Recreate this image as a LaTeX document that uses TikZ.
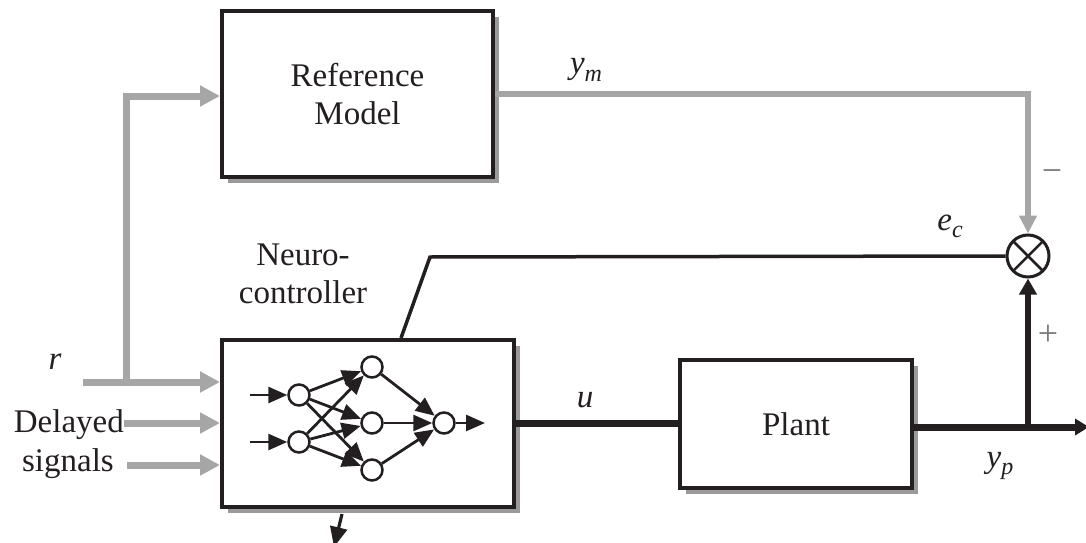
\documentclass[tikz,border=0pt]{standalone}
\usepackage{fontspec}
\setmainfont{Liberation Serif}
\usetikzlibrary{arrows.meta,shadows,calc}
\definecolor{lgray}{HTML}{A6A6A6}
\definecolor{sgray}{HTML}{9A9A9A}
\definecolor{ink}{HTML}{231F20}
\definecolor{signgray}{HTML}{7A7A7A}
\newcommand{\mvar}[2]{\textit{#1}\raisebox{-0.22em}{\fontsize{24}{24}\selectfont\textit{#2}}}
\begin{document}
\begin{tikzpicture}[x=1pt,y=-1pt,
  blk/.style={draw=ink, line width=4pt, fill=white,
    drop shadow={shadow xshift=6pt, shadow yshift=-6pt, fill=sgray, opacity=1},
    inner sep=0pt, font=\fontsize{33}{38}\selectfont, align=center, text=ink},
  lbl/.style={font=\fontsize{33}{38}\selectfont, text=ink, inner sep=0pt, align=center},
  signlbl/.style={font=\fontsize{36}{38}\selectfont, text=signgray, inner sep=0pt},
  garrow/.style={draw=lgray, line width=7pt, -{Triangle[length=20pt,width=20pt]}},
  gline/.style={draw=lgray, line width=6pt},
  bline/.style={draw=ink, line width=7pt},
  thinline/.style={draw=ink, line width=3.5pt},
  nnarrow/.style={draw=ink, line width=2.8pt, -{Triangle[length=19pt,width=16pt]}},
  neuron/.style={circle, draw=ink, line width=2.5pt, fill=white, minimum size=21pt, inner sep=0pt},
  sumnode/.style={circle, draw=ink, line width=3pt, fill=white, minimum size=42pt, inner sep=0pt,
    path picture={\draw[ink, line width=2.5pt]
      (path picture bounding box.north west) -- (path picture bounding box.south east)
      (path picture bounding box.south west) -- (path picture bounding box.north east);}}
]
\useasboundingbox (0,0) rectangle (1086,543);

% blocks
\node[blk, minimum width=271pt, minimum height=166pt] (ref) at (357.5,94) {Reference\\Model};
\node[blk, minimum width=292pt, minimum height=167pt] (nc) at (368,423.5) {};
\node[blk, minimum width=232pt, minimum height=128pt] (plant) at (796,424) {Plant};
\node[sumnode] (sum) at (1028,256) {};

% labels
\node[lbl] (rl) at (55,362) {\textit{r}};
\node[lbl, anchor=east] (dl) at (124,425) {Delayed};
\node[lbl, anchor=east] (sl) at (114,464) {signals};
\node[lbl] (ncl) at (303,274) {Neuro-\\controller};
\node[lbl] (yml) at (586,70) {\mvar{y}{m}};
\node[lbl] (ecl) at (950,226) {\mvar{e}{c}};
\node[lbl] (ul) at (585,400) {\textit{u}};
\node[lbl] (ypl) at (1000,466) {\mvar{y}{p}};
\node[signlbl] (minus) at (1052,176) {−};
\node[signlbl] (plus) at (1048,335) {+};

% gray input connectors
\coordinate (rs) at (83,382);
\coordinate (br) at (126,382);
\coordinate (bt) at (126,96);
\coordinate (ss) at (127,465);
\draw[garrow] (rs) -- (rs -| nc.west);
\draw[garrow] (br) |- (bt -| ref.west);
\draw[garrow] (dl.east |- 0,423) -- (nc.west |- 0,423);
\draw[garrow] (ss) -- (ss -| nc.west);

% reference model output to summing junction
\draw[gline, -{Triangle[length=18pt,width=17pt]}] (ref.east) -| (sum.north);

% controller output u
\draw[bline] (nc.east |- 0,423) -- (plant.west |- 0,423);

% plant output
\coordinate (tap) at (1028,427);
\coordinate (out) at (1089,427);
\draw[bline, -{Triangle[length=14pt,width=16pt]}] (plant.east |- tap) -- (out);
\draw[draw=ink, line width=6pt, -{Triangle[length=16pt,width=17pt]}] (tap) -- (sum.south);

% error e_c to controller
\coordinate (kink) at (430,257);
\draw[thinline] (sum.west) -- (kink) -- ($(nc.north west)+(181,0)$);

% bottom arrow
\coordinate (fb) at (334,547);
\draw[nnarrow, -{Triangle[length=20pt,width=17pt]}, line width=3.2pt] ($(nc.south west)+(122,5)$) -- (fb);

% neural network
\node[neuron] (i1) at (299,395) {};
\node[neuron] (i2) at (299,442) {};
\node[neuron] (h1) at (372,367) {};
\node[neuron] (h2) at (372,423) {};
\node[neuron] (h3) at (372,470) {};
\node[neuron] (o) at (444,423) {};
\coordinate (ia) at (250,395);
\coordinate (ib) at (250,442);
\coordinate (oa) at (485,423);
\draw[nnarrow] (ia) -- (i1);
\draw[nnarrow] (ib) -- (i2);
\foreach \s in {i1,i2}{\foreach \t in {h1,h2,h3}{\draw[nnarrow] (\s) -- (\t);}}
\foreach \s in {h1,h2,h3}{\draw[nnarrow] (\s) -- (o);}
\draw[nnarrow] (o) -- (oa);
\end{tikzpicture}
\end{document}
